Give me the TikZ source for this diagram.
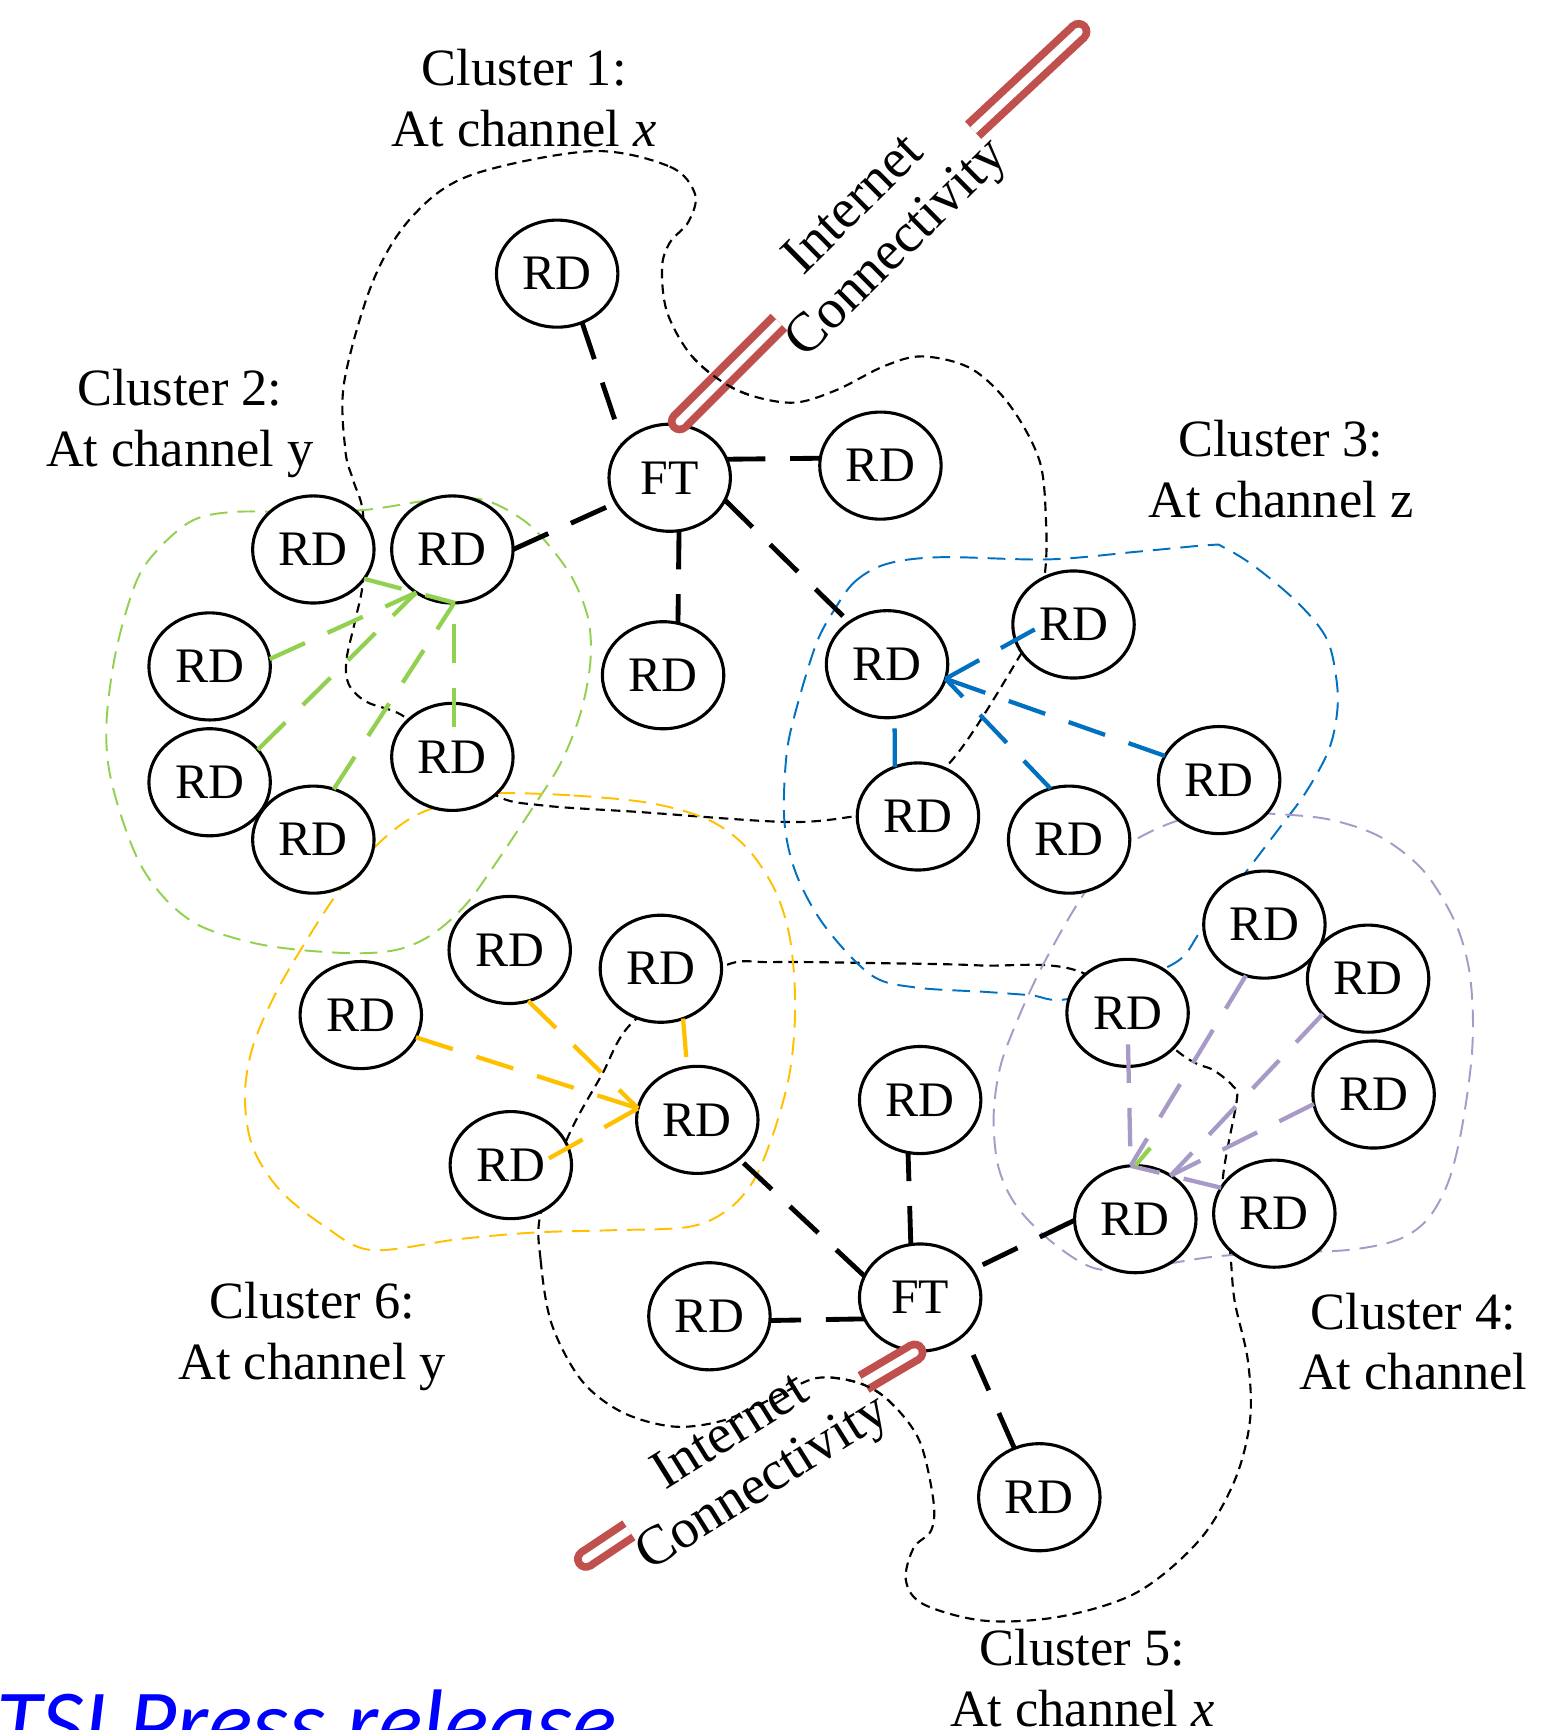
\documentclass[tikz,border=0pt]{standalone}
\usepackage{fontspec}
\setmainfont{Liberation Serif}
\newfontfamily\pressfont{Carlito}
\usetikzlibrary{shapes.geometric,calc}
\definecolor{cgreen}{HTML}{92D050}
\definecolor{cblue}{HTML}{0070C0}
\definecolor{cyellow}{HTML}{FFC000}
\definecolor{cpurple}{RGB}{168,154,198}
\definecolor{cred}{HTML}{C0504D}
\definecolor{pressblue}{RGB}{0,0,255}

\newcommand\bndone[1]{\draw[#1] plot[smooth cycle, tension=0.55] coordinates {(536,137) (607,151) (630,176) (624,201) (607,220) (600,243) (605,284) (629,325) (669,354) (717,365) (757,354) (801,332) (836,323) (880,334) (915,367) (942,417) (948,471) (947,520) (935,570) (924,595) (862,690) (800,735) (774,740) (713,745) (580,736) (492,730) (448,720) (395,675) (364,648) (332,636) (316,620) (314,598) (322,562) (329,526) (329,465) (320,435) (313,408) (312,346) (338,255) (373,197) (426,159)};}
\newcommand\bndfive[1]{\draw[#1] plot[smooth cycle, tension=0.55] coordinates {(490,1100) (490,1142) (500,1200) (527,1251) (564,1280) (611,1293) (657,1287) (703,1266) (740,1249) (777,1253) (805,1269) (833,1305) (846,1360) (844,1387) (828,1403) (821,1432) (837,1454) (893,1469) (962,1465) (1031,1443) (1087,1396) (1119,1342) (1133,1287) (1131,1233) (1119,1179) (1115,1135) (1108,1073) (1121,997) (1118,985) (1100,970) (1070,955) (982,882) (888,875) (800,873) (700,872) (655,876) (575,925) (545,975) (515,1030)};}

\newcommand\inetcable[2]{%
  \draw[cred, line width=0.215cm, line cap=round] (#1) -- ($(#1)!0.01cm!(#2)$);
  \draw[cred, line width=0.215cm] (#1) -- (#2);
  \draw[white, line width=0.075cm, line cap=round] (#1) -- ($(#1)!0.01cm!(#2)$);
  \draw[white, line width=0.075cm] (#1) -- (#2);
}

\tikzset{
  dev/.style={ellipse, draw=black, line width=0.8pt, fill=white, minimum width=1.1cm, minimum height=0.97cm, inner sep=0pt, outer sep=0pt, font=\fontsize{12.8}{14}\selectfont},
  link/.style={draw=black, line width=1.25pt, dash pattern=on 0.35cm off 0.225cm},
  flow/.style={line width=1.1pt, dash pattern=on 0.35cm off 0.225cm},
  bound/.style={draw=black, line width=0.55pt, dash pattern=on 0.085cm off 0.055cm},
  cbound/.style={line width=0.5pt, dash pattern=on 0.16cm off 0.09cm},
  clabel/.style={align=center, inner sep=0pt, font=\fontsize{13.5}{15.65}\selectfont},
  ictext/.style={align=center, inner sep=0pt, font=\fontsize{14.3}{15.65}\selectfont},
}

\begin{document}
\begin{tikzpicture}[x=0.01cm, y=-0.01cm]
\useasboundingbox (0,0) rectangle (1408,1568);

% ---- cluster boundaries
\bndone{bound}
\bndfive{bound}
\draw[cbound, cgreen] plot[smooth cycle, tension=0.55] coordinates {(211.5,464) (272,464) (332,462) (393,453) (438,453) (474.5,471.5) (498.6,495.6) (519.8,525.9) (533.4,562) (535,601) (526,647) (508,692) (483.5,731) (453,777) (423,819) (393,846) (363,860) (326,864) (272,861) (227,854) (181,839) (151,816) (127,783) (109,737) (98,692) (97,647) (106,586) (124,526) (145,496) (175,471.5)};
\draw[cbound, cblue] plot[smooth cycle, tension=0.55] coordinates {(756,553) (775,527) (804,511) (853,505) (950,507) (1031,500) (1096,494) (1109,496) (1138,514) (1177,547) (1203,580) (1212,622) (1211,653) (1203,683) (1183,719) (1160,750) (1128,792) (1089,843) (1061,875) (970,905) (934,902) (893,899) (830,895) (790,884) (748,840) (722,793) (711,745) (713,683) (723,638) (740,583)};
\draw[cbound, cyellow] plot[smooth cycle, tension=0.55] coordinates {(451,719) (520,721) (590,728) (642,743) (676,767.5) (701,804) (714.5,843) (720,888) (720,934) (714.5,979) (701,1027) (683,1070) (659,1097) (624,1112) (555,1115) (486,1117) (416.5,1123) (337,1133) (295,1112) (254,1079) (229,1039.5) (222,994) (229,949) (250,900) (278,852) (305.5,810) (340,767.5) (375,740) (416.5,725)};
\draw[cbound, cpurple] plot[smooth cycle, tension=0.55] coordinates {(1070,743) (1115,737) (1160.5,738) (1206,743) (1251,758.5) (1290,789) (1318,834) (1331,876) (1335,922) (1333,967) (1324,1027.5) (1312,1073) (1293,1106) (1266,1124) (1221,1133) (1160.5,1135) (1100,1139) (1040,1148) (994,1150) (955,1127) (922,1094) (905,1058) (900.6,1012) (906.6,967) (922,925) (943,879) (973,825) (1000,786) (1027.5,762)};

% ---- devices
\node[dev] (RDa) at (505,248) {RD};
\node[dev] (FTa) at (607,433) {FT};
\node[dev] (RDb) at (798,422) {RD};
\node[dev] (RDc) at (601,612) {RD};
\node[dev] (g1) at (284,498) {RD};
\node[dev] (g2) at (410,498) {RD};
\node[dev] (g3) at (190,604) {RD};
\node[dev] (g4) at (190,709) {RD};
\node[dev] (g5) at (284,761) {RD};
\node[dev] (g6) at (410,686) {RD};
\node[dev] (bh) at (804,602) {RD};
\node[dev] (b1) at (973,566) {RD};
\node[dev] (b2) at (832,740) {RD};
\node[dev] (b3) at (969,761) {RD};
\node[dev] (b4) at (1105,707) {RD};
\node[dev] (p1) at (1022,918) {RD};
\node[dev] (p2) at (1146,838) {RD};
\node[dev] (p3) at (1240,887) {RD};
\node[dev] (p4) at (1245,992) {RD};
\node[dev] (ph) at (1029,1105) {RD};
\node[dev] (p5) at (1155,1100) {RD};
\node[dev] (y1) at (327,920) {RD};
\node[dev] (y2) at (462,861) {RD};
\node[dev] (y3) at (599,878) {RD};
\node[dev] (yh) at (632,1015) {RD};
\node[dev] (y4) at (463,1056) {RD};
\node[dev] (c5t) at (834,997) {RD};
\node[dev] (FTb) at (834,1176) {FT};
\node[dev] (c5l) at (643,1193) {RD};
\node[dev] (c5b) at (942,1357) {RD};

% ---- internet cables
\coordinate (ctA) at (616,382);
\coordinate (ctB) at (706,292);
\coordinate (ctC) at (882,118);
\coordinate (ctD) at (977.6,28.7);
\coordinate (cbA) at (829,1225.7);
\coordinate (cbB) at (782.7,1253);
\coordinate (cbC) at (570,1387);
\coordinate (cbD) at (531,1413);
\inetcable{ctA}{ctB}
\inetcable{ctD}{ctC}
\inetcable{cbA}{cbB}
\inetcable{cbD}{cbC}
\node[ictext, rotate=44.7] (ic1) at (795,207) {Internet\\Connectivity};
\node[ictext, rotate=32] (ic2) at (678,1323) {Internet\\Connectivity};

% boundaries pass over the cables
\begin{scope}
\clip (628,322) rectangle (682,372);
\bndone{bound}
\end{scope}
\begin{scope}
\clip (750,1235) rectangle (820,1278);
\bndfive{bound}
\end{scope}

% ---- black links to the FTs
\draw[link] (RDa.-63) -- (FTa.144);
\draw[link] (FTa.18) -- (RDb.173);
\draw[link] (FTa.-80) -- (RDc.74);
\draw[link] (g2.0) -- (FTa.205);
\draw[link] (FTa.-22.5) -- (bh.132);
\draw[link] (FTb.159) -- (yh.-43);
\draw[link] (FTb.100) -- (c5t.-103);
\draw[link] (FTb.201) -- (c5l.-4);
\draw[link] (c5b.117) -- (FTb.-40);
\draw[link] (ph.181) -- (FTb.28);

% ---- cluster 2 (green)
\draw[flow, cgreen] (g1.-30) -- (g2.-87);
\draw[flow, cgreen] (g3.7) -- (g2.230);
\draw[flow, cgreen] (g4.34) -- (g2.230);
\draw[flow, cgreen] (g5.68) -- (g2.-88);
\draw[flow, cgreen, shorten <=-0.21cm] (g6.88) -- (g2.-88);

% ---- cluster 3 (blue)
\draw[flow, cblue, shorten <=-0.2cm] (b1.195.5) -- (bh.-14.4);
\draw[flow, cblue] (b4.156) -- (bh.-14.4);
\draw[flow, cblue] (b3.110) -- (bh.-14.4);
\draw[flow, cblue] (b2.115) -- (bh.-82);

% ---- cluster 4 (purple)
\draw[flow, cpurple, shorten <=-0.2cm] (p1.-89) -- (ph.95);
\draw[flow, cpurple] (p2.-110.5) -- (ph.95);
\draw[flow, cpurple] (p3.218) -- (ph.51.4);
\draw[flow, cpurple] (p4.189) -- (ph.51.4);
\draw[flow, cpurple] (p5.154.5) -- (ph.95);
\draw[line width=1.1pt, cgreen] (ph.90) -- ++(13.5,-16);

% ---- cluster 6 (yellow)
\draw[flow, cyellow] (y1.-22) -- (yh.169);
\draw[flow, cyellow] (y2.-70) -- (yh.169);
\draw[flow, cyellow, shorten <=-0.2cm] (y4.17) -- (yh.169);
\draw[flow, cyellow] (y3.-66) -- (yh.101);

% ---- labels
\node[clabel] (lab1) at (475,89) {Cluster 1:\\At channel \textit{x}};
\node[clabel] (lab2) at (163,384) {Cluster 2:\\At channel y};
\node[clabel] (lab3) at (1161,425) {Cluster 3:\\At channel z};
\node[clabel] (lab4) at (1281,1216) {Cluster 4:\\At channel};
\node[clabel] (lab5) at (981,1521) {Cluster 5:\\At channel \textit{x}};
\node[clabel] (lab6) at (283,1211) {Cluster 6:\\At channel y};

\node[anchor=base west, inner sep=0pt, text=pressblue, font=\pressfont\itshape\fontsize{24}{28}\selectfont] (press) at (-4,1590) {TSI Press release};
\end{tikzpicture}
\end{document}
